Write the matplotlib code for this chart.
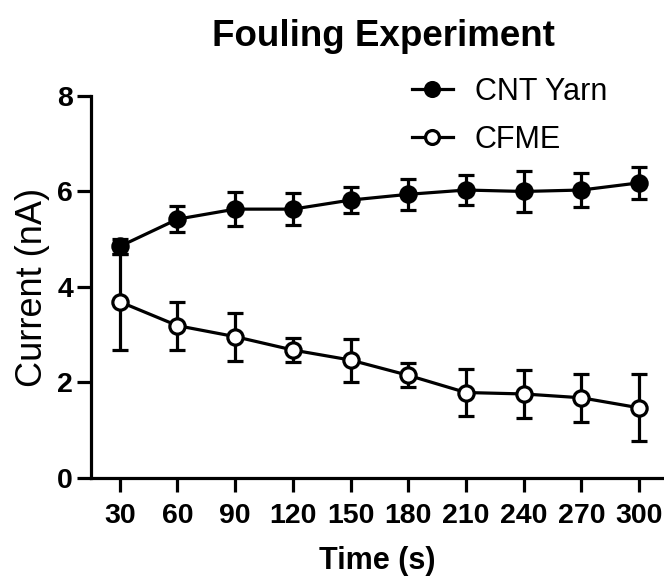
import numpy as np
import matplotlib.pyplot as plt
from matplotlib.lines import Line2D

plt.rcParams['font.family'] = ['Liberation Sans', 'DejaVu Sans']

time_s = [30, 60, 90, 120, 150, 180, 210, 240, 270, 300]

cnt_mean = [4.85, 5.42, 5.63, 5.63, 5.82, 5.94, 6.03, 6.00, 6.03, 6.18]
cnt_err = [0.15, 0.27, 0.36, 0.34, 0.27, 0.33, 0.31, 0.42, 0.36, 0.34]

cfme_mean = [3.69, 3.19, 2.96, 2.68, 2.47, 2.15, 1.79, 1.76, 1.68, 1.47]
cfme_err = [1.00, 0.50, 0.50, 0.25, 0.45, 0.25, 0.49, 0.50, 0.50, 0.70]

fig = plt.figure(figsize=(6.64, 5.78), dpi=100)
ax = fig.add_axes([0.137, 0.173, 0.863, 0.661])

lw = 2.3
ax.errorbar(time_s, cnt_mean, yerr=cnt_err, color='black', lw=lw,
            marker='o', ms=11, mfc='black', mec='black', mew=lw,
            capsize=6, capthick=lw, elinewidth=lw, zorder=3)
ax.errorbar(time_s, cfme_mean, yerr=cfme_err, color='black', lw=lw,
            marker='o', ms=11, mfc='white', mec='black', mew=lw,
            capsize=6, capthick=lw, elinewidth=lw, zorder=3)

ax.set_xlim(15, 313)
ax.set_ylim(0, 8)
ax.set_xticks(time_s)
ax.set_yticks([0, 2, 4, 6, 8])

for side in ['top', 'right']:
    ax.spines[side].set_visible(False)
for side in ['left', 'bottom']:
    ax.spines[side].set_linewidth(lw)
ax.tick_params(width=lw, length=10, labelsize=20.5)
ax.tick_params(axis='x', pad=8)
ax.tick_params(axis='y', pad=3)
for lab in ax.get_xticklabels() + ax.get_yticklabels():
    lab.set_fontweight('bold')

ax.set_title('Fouling Experiment', fontsize=26.5, fontweight='bold',
             pad=36, x=0.51)
ax.set_xlabel('Time (s)', fontsize=22, fontweight='bold', labelpad=12)
ax.set_ylabel('Current (nA)', fontsize=26, labelpad=5)

handles = [
    Line2D([], [], color='black', lw=lw, marker='o', ms=10, mfc='black', mew=lw),
    Line2D([], [], color='black', lw=lw, marker='o', ms=10, mfc='white', mew=lw),
]
ax.legend(handles, ['CNT Yarn', 'CFME'], loc='upper left',
          bbox_to_anchor=(0.56, 1.05), frameon=False, fontsize=22,
          borderpad=0, borderaxespad=0, handlelength=1.34,
          handletextpad=0.72, labelspacing=0.6)

fig.savefig('out.png', dpi=100)
